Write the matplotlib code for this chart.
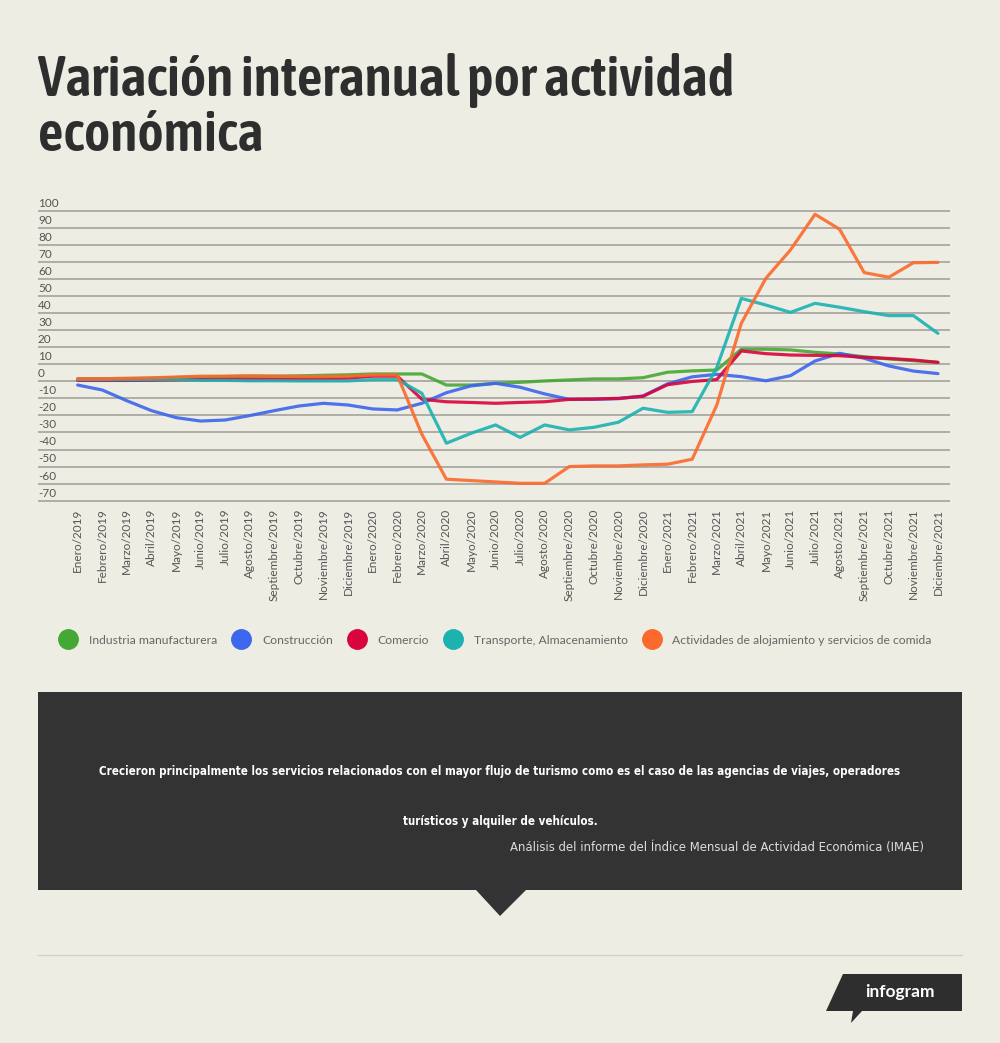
import numpy as np
import matplotlib
matplotlib.use('Agg')
import matplotlib.pyplot as plt
from matplotlib import font_manager as fm
from matplotlib.lines import Line2D
from matplotlib.patches import Polygon
import matplotlib.transforms as mtransforms

# datos (variación interanual, %)
meses = [f"{m}/{a}" for a in (2019, 2020, 2021) for m in (
    "Enero", "Febrero", "Marzo", "Abril", "Mayo", "Junio", "Julio", "Agosto",
    "Septiembre", "Octubre", "Noviembre", "Diciembre")]

industria = [1.5, 1.5, 1.5, 1.8, 2.2, 2.5, 2.8, 3.0, 3.0, 3.2, 3.5, 3.8,
             4.3, 4.3, 4.3, -2.2, -2.2, -1.2, -0.6, 0.2, 0.8, 1.4, 1.4, 2.1,
             5.3, 6.1, 6.6, 18.8, 18.8, 18.4, 17.0, 16.0, 14.4, 13.1, 12.1, 11.1]
construccion = [-2.2, -5.1, -11.4, -17.2, -21.3, -23.3, -22.7, -20.1, -17.2, -14.5, -12.9, -13.9,
                -16.2, -16.8, -12.9, -6.7, -2.7, -1.2, -3.5, -7.4, -10.6, -10.6, -10.2, -8.6,
                -1.5, 2.6, 4.1, 2.7, 0.3, 3.3, 11.9, 16.4, 13.5, 9.0, 6.0, 4.5]
comercio = [0.5, 0.5, 0.5, 0.6, 0.8, 1.0, 1.2, 1.2, 1.2, 1.3, 1.5, 1.8,
            3.0, 3.0, -10.5, -12.0, -12.4, -12.9, -12.4, -12.0, -10.6, -10.4, -10.0, -8.8,
            -2.0, -0.1, 1.0, 17.8, 16.2, 15.4, 15.2, 15.0, 14.0, 13.4, 12.5, 11.1]
transporte = [1.0, 1.0, 1.0, 1.0, 1.0, 0.5, 0.5, 0.3, 0.3, 0.2, 0.2, 0.2,
              1.0, 1.0, -7.0, -36.3, -30.5, -25.6, -32.9, -25.6, -28.5, -27.0, -24.0, -15.8,
              -18.2, -17.8, 8.0, 48.6, 44.7, 40.4, 45.7, 43.4, 40.8, 38.5, 38.5, 28.1]
alojamiento = [1.5, 1.5, 1.8, 2.0, 2.5, 3.0, 3.0, 3.2, 3.0, 2.8, 2.8, 3.0,
               3.7, 3.7, -31.0, -57.4, -58.2, -59.0, -59.8, -59.8, -50.0, -49.6, -49.6, -49.0,
               -48.6, -45.7, -14.0, 34.0, 60.4, 77.0, 97.9, 89.1, 63.7, 61.0, 69.5, 69.7]

nombres = ["Industria manufacturera", "Construcción", "Comercio",
           "Transporte, Almacenamiento", "Actividades de alojamiento y servicios de comida"]
colores = ["#45a834", "#3b66ee", "#d9043d", "#1cb2b0", "#fb6a2c"]
yticks = list(range(-70, 101, 10))

BG = "#eeede4"
W, H = 1000, 1043

nombres_fuentes = {f.name for f in fm.fontManager.ttflist}
TEXTO = "Lato" if "Lato" in nombres_fuentes else "DejaVu Sans"


def es_angosta(f):
    nom = (f.name + " " + f.fname).lower()
    return ("narrow" in nom or "condensed" in nom or "cond" in nom.split("/")[-1]
            or f.stretch in ("condensed", "semi-condensed", "extra-condensed", "ultra-condensed"))


def peso(f):
    w = f.weight
    if isinstance(w, str):
        w = {"bold": 700, "semibold": 600, "demibold": 600, "medium": 500, "normal": 400,
             "regular": 400, "book": 400, "light": 300, "black": 900, "heavy": 900}.get(w, 400)
    return w


def fuente_angosta(objetivo):
    cands = [f for f in fm.fontManager.ttflist
             if es_angosta(f) and f.style == "normal" and "mono" not in f.name.lower()
             and "serif" not in f.name.lower()]
    if not cands:
        return fm.FontProperties(family="DejaVu Sans", weight="bold" if objetivo >= 600 else "normal")
    # preferir la mas angosta (extra > condensed > semi) y el peso mas cercano
    orden = {"ultra-condensed": 0, "extra-condensed": 1, "condensed": 2, "semi-condensed": 3}
    cands.sort(key=lambda f: (orden.get(f.stretch, 2), abs(peso(f) - objetivo)))
    return fm.FontProperties(fname=cands[0].fname)


TITULO = fuente_angosta(600)
NEGRITA = fuente_angosta(700)
NORMAL = fuente_angosta(400)


def px(x, y):
    return x / W, 1 - y / H


def ajustar(textos, ancho_px):
    fig.canvas.draw()
    w = textos[0].get_window_extent().width
    for t in textos:
        t.set_fontsize(t.get_fontsize() * ancho_px / w)


fig = plt.figure(figsize=(W / 100, H / 100), dpi=100, facecolor=BG)

# titulo
t1 = fig.text(*px(38, 96), "Variación interanual por actividad", fontproperties=TITULO,
              color="#2e2e2e", va="baseline", ha="left")
t2 = fig.text(*px(38, 151), "económica", fontproperties=TITULO,
              color="#2e2e2e", va="baseline", ha="left")
t1.set_fontsize(40)
t2.set_fontsize(40)
ajustar([t1, t2], 697)

# grafico
top, bot = 210.7 - 0.85, 500.7 + 0.85
ax = fig.add_axes([38 / W, 1 - bot / H, 912 / W, (bot - top) / H])
ax.set_facecolor(BG)
x = np.arange(len(meses))
series = [industria, construccion, comercio, transporte, alojamiento]
for vals, col in zip(series, colores):
    ax.plot(x, vals, color=col, lw=2.3, alpha=0.9, solid_joinstyle="round", solid_capstyle="round")

ax.set_xlim(-1.615, 35.49)
ax.set_ylim(-70.5, 100.5)
ax.set_yticks(yticks)
ax.set_yticklabels([])
ax.set_xticks(x)
ax.set_xticklabels(meses, rotation=90, fontsize=8.5, color="#555555", family=TEXTO)
ax.tick_params(length=0)
ax.tick_params(axis="x", pad=5)
ax.grid(axis="y", color="#9c9c96", lw=1.1)
ax.set_axisbelow(True)
for s in ax.spines.values():
    s.set_visible(False)

trans = mtransforms.blended_transform_factory(ax.transAxes, ax.transData)
for v in yticks:
    ax.annotate(str(v), (0, v), xycoords=trans, xytext=(0, 1.5), textcoords="offset points",
                ha="left", va="bottom", fontsize=8.5, color="#555555", family=TEXTO)

# leyenda
handles = [Line2D([], [], marker="o", ls="", color=c, markersize=14) for c in colores]
fig.legend(handles, nombres, loc="center", bbox_to_anchor=px(494, 640), ncol=5, frameon=False,
           prop={"family": TEXTO, "size": 8.7}, labelcolor="#666666",
           handletextpad=0.7, columnspacing=1.0)

# recuadro con cita
caja = Polygon([px(38, 692), px(962, 692), px(962, 890), px(526, 890), px(500, 916),
                px(476, 890), px(38, 890)], closed=True, transform=fig.transFigure,
               facecolor="#333333", edgecolor="none")
fig.add_artist(caja)
c1 = fig.text(*px(500, 771), "Crecieron principalmente los servicios relacionados con el mayor flujo de turismo "
              "como es el caso de las agencias de viajes, operadores", fontproperties=NEGRITA,
              color="white", ha="center", va="center")
c2 = fig.text(*px(500, 821), "turísticos y alquiler de vehículos.", fontproperties=NEGRITA,
              color="white", ha="center", va="center")
c1.set_fontsize(10)
c2.set_fontsize(10)
ajustar([c1, c2], 793)
fuente = fig.text(*px(924, 847), "Análisis del informe del Índice Mensual de Actividad Económica (IMAE)",
                  fontproperties=NORMAL, color="#dddddd", ha="right", va="center")
fuente.set_fontsize(9)
ajustar([fuente], 415)

# pie
fig.add_artist(Line2D([38 / W, 962 / W], [1 - 955 / H] * 2, color="#d4d3ca", lw=1,
                      transform=fig.transFigure))
logo = Polygon([px(843, 974), px(962, 974), px(962, 1011), px(862, 1011), px(851, 1023),
                px(853, 1011), px(826, 1011)], closed=True, transform=fig.transFigure,
               facecolor="#2e2e2e", edgecolor="none")
fig.add_artist(logo)
fig.text(*px(900, 992), "infogram", family=TEXTO, fontweight="bold", fontsize=12.5,
         color="white", ha="center", va="center")

fig.savefig("out.png", dpi=100, facecolor=BG)
